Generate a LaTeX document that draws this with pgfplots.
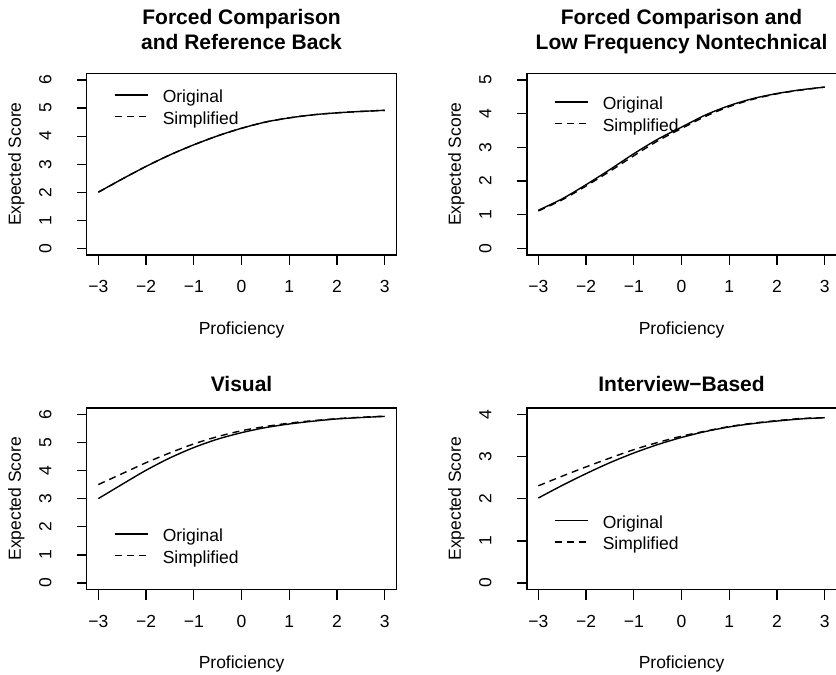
\documentclass[border=0pt]{standalone}
\usepackage{fontspec}
\setmainfont{Liberation Sans}
\usepackage{pgfplots}
\pgfplotsset{compat=1.18}
\newcommand{\rfont}{\fontsize{17.5}{21}\selectfont}
\newcommand{\tfont}{\bfseries\fontsize{21}{25}\selectfont}
\pgfplotsset{
  rstyle/.style={
    scale only axis, width=309.3pt, height=181.7pt,
    anchor=south west,
    xmin=-3.24, xmax=3.24,
    xtick={-3,-2,-1,0,1,2,3},
    xticklabels={−3,−2,−1,0,1,2,3},
    ytick distance=1,
    /pgf/number format/assume math mode=true,
    tick align=outside, xtick pos=bottom, ytick pos=left,
    major tick length=10pt,
    every tick/.style={black, line width=1.2pt},
    axis line style={line width=1.2pt},
    tick label style={font=\rfont, inner sep=0pt},
    xticklabel style={anchor=base},
    yticklabel style={rotate=90, anchor=base},
    xticklabel shift=28pt,
    yticklabel shift=25.5pt,
    every axis x label/.style={at={(axis description cs:0.5,-0.4364)}, anchor=base, font=\rfont},
    every axis y label/.style={at={(axis description cs:-0.2137,0.5)}, rotate=90, anchor=base, font=\rfont},
    xlabel={Proficiency}, ylabel={Expected Score},
    every axis title/.style={at={(axis description cs:0.5,1.0897)}, anchor=base, align=center, font=\tfont},
    legend cell align=left,
    legend style={draw=none, fill=none, inner xsep=0pt, inner ysep=0pt, row sep=6.1pt, font=\rfont,
      nodes={inner sep=0pt, text height=15.4pt, text depth=0pt},
      /tikz/every odd column/.append style={column sep=14.5pt}},
    legend image code/.code={\draw[#1] (0pt,0pt) -- (32.4pt,0pt);},
  },
  orig/.style={black, line width=1.4pt, smooth},
  simp/.style={black, line width=1.4pt, smooth, dash pattern=on 7pt off 5pt},
}
\begin{document}
\begin{tikzpicture}
\useasboundingbox (0,0) rectangle (836pt,675pt);
% Panel 1
\begin{axis}[rstyle, at={(86.9pt,420pt)}, ymin=-0.24, ymax=6.24,
  title={Forced Comparison\\and Reference Back},
  title style={at={(axis description cs:0.5,1.1337)}},
  legend style={at={(axis description cs:0.0886,0.923)}, anchor=north west}]
\addplot[orig] coordinates {(-3,2.00) (-2.5,2.47) (-2,2.92) (-1.5,3.33) (-1,3.69) (-0.5,4.01) (0,4.28) (0.5,4.50) (1,4.65) (1.5,4.76) (2,4.83) (2.5,4.88) (3,4.92)};
\addplot[simp] coordinates {(-3,2.00) (-2.5,2.47) (-2,2.92) (-1.5,3.33) (-1,3.69) (-0.5,4.01) (0,4.28) (0.5,4.50) (1,4.65) (1.5,4.76) (2,4.83) (2.5,4.88) (3,4.92)};
\legend{Original, Simplified}
\end{axis}
% Panel 2
\begin{axis}[rstyle, at={(526.9pt,420pt)}, ymin=-0.2, ymax=5.2,
  title={Forced Comparison and\\Low Frequency Nontechnical},
  title style={at={(axis description cs:0.5,1.1337)}},
  legend style={at={(axis description cs:0.0886,0.886)}, anchor=north west}]
\addplot[orig] coordinates {(-3,1.13) (-2.5,1.47) (-2,1.89) (-1.5,2.34) (-1,2.81) (-0.5,3.24) (0,3.60) (0.5,3.96) (1,4.24) (1.5,4.45) (2,4.60) (2.5,4.71) (3,4.79)};
\addplot[simp] coordinates {(-3,1.11) (-2.5,1.44) (-2,1.85) (-1.5,2.29) (-1,2.75) (-0.5,3.19) (0,3.56) (0.5,3.92) (1,4.21) (1.5,4.43) (2,4.59) (2.5,4.70) (3,4.79)};
\legend{Original, Simplified}
\end{axis}
% Panel 3
\begin{axis}[rstyle, at={(86.9pt,85.3pt)}, ymin=-0.24, ymax=6.24,
  title={Visual},
  legend style={at={(axis description cs:0.0886,0.3506)}, anchor=north west}]
\addplot[orig] coordinates {(-3,3.01) (-2.5,3.52) (-2,4.02) (-1.5,4.46) (-1,4.83) (-0.5,5.13) (0,5.36) (0.5,5.54) (1,5.67) (1.5,5.77) (2,5.85) (2.5,5.90) (3,5.94)};
\addplot[simp] coordinates {(-3,3.51) (-2.5,3.90) (-2,4.29) (-1.5,4.64) (-1,4.96) (-0.5,5.22) (0,5.43) (0.5,5.58) (1,5.70) (1.5,5.79) (2,5.86) (2.5,5.91) (3,5.95)};
\legend{Original, Simplified}
\end{axis}
% Panel 4
\begin{axis}[rstyle, at={(526.9pt,85.3pt)}, ymin=-0.16, ymax=4.16,
  title={Interview−Based},
  legend style={at={(axis description cs:0.0886,0.4238)}, anchor=north west}]
\addplot[orig] coordinates {(-3,2.02) (-2.5,2.32) (-2,2.60) (-1.5,2.86) (-1,3.09) (-0.5,3.29) (0,3.46) (0.5,3.60) (1,3.71) (1.5,3.79) (2,3.85) (2.5,3.90) (3,3.93)};
\addplot[simp] coordinates {(-3,2.31) (-2.5,2.54) (-2,2.76) (-1.5,2.97) (-1,3.17) (-0.5,3.34) (0,3.49) (0.5,3.61) (1,3.72) (1.5,3.80) (2,3.86) (2.5,3.91) (3,3.93)};
\legend{Original, Simplified}
\end{axis}
\end{tikzpicture}
\end{document}
